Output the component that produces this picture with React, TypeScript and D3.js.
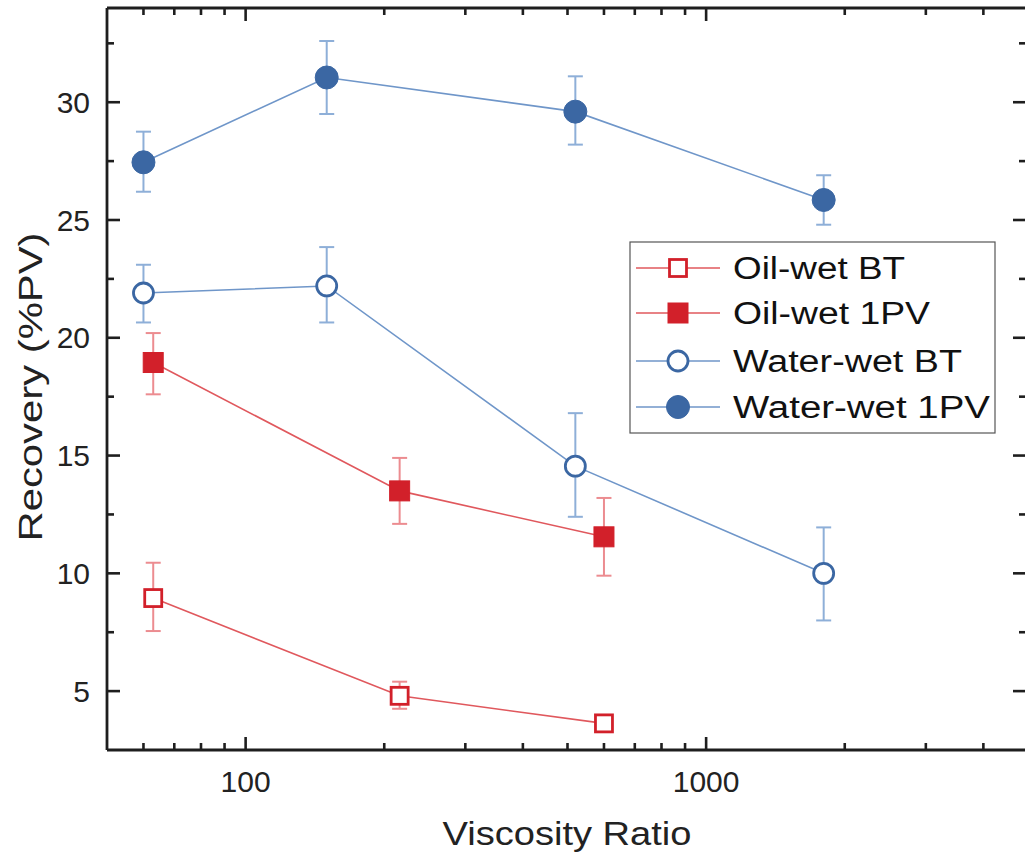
import React from "react";
import * as d3 from "d3";

// ---- data ----
const oilX = [63, 216, 600];
const waterX = [60, 150, 520, 1800];

const oilBT = [8.95, 4.8, 3.63];
const oilBTLow = [7.55, 4.25, 3.4];
const oilBTHigh = [10.45, 5.4, 3.85];

const oil1PV = [18.95, 13.5, 11.55];
const oil1PVLow = [17.6, 12.1, 9.9];
const oil1PVHigh = [20.2, 14.9, 13.2];

const waterBT = [21.9, 22.2, 14.55, 10.0];
const waterBTLow = [20.65, 20.65, 12.4, 8.0];
const waterBTHigh = [23.1, 23.85, 16.8, 11.95];

const water1PV = [27.45, 31.05, 29.6, 25.85];
const water1PVLow = [26.2, 29.5, 28.2, 24.8];
const water1PVHigh = [28.75, 32.6, 31.1, 26.9];

const xMajorTicks = [100, 1000];
const xMinorTicks = [60, 70, 80, 90, 200, 300, 400, 500, 600, 700, 800, 900, 2000, 3000, 4000];
const yMajorTicks = [5, 10, 15, 20, 25, 30];
const yMinorTicks = [7.5, 12.5, 17.5, 22.5, 27.5, 32.5];

const legendLabels = ["Oil-wet BT", "Oil-wet 1PV", "Water-wet BT", "Water-wet 1PV"];

const RED = "#d2202a";
const RED_LINE = "#e0585d";
const RED_ERR = "#ec8c90";
const BLUE = "#3b67a3";
const BLUE_LINE = "#6f96c9";
const BLUE_ERR = "#8eafd8";
const FONT = "'Liberation Sans', Arial, Helvetica, sans-serif";

type Series = {
  name: string;
  xs: number[];
  ys: number[];
  lo: number[];
  hi: number[];
  shape: "square" | "circle";
  filled: boolean;
  color: string;
  lineColor: string;
  errColor: string;
};

const series: Series[] = [
  { name: legendLabels[0], xs: oilX, ys: oilBT, lo: oilBTLow, hi: oilBTHigh, shape: "square", filled: false, color: RED, lineColor: RED_LINE, errColor: RED_ERR },
  { name: legendLabels[1], xs: oilX, ys: oil1PV, lo: oil1PVLow, hi: oil1PVHigh, shape: "square", filled: true, color: RED, lineColor: RED_LINE, errColor: RED_ERR },
  { name: legendLabels[2], xs: waterX, ys: waterBT, lo: waterBTLow, hi: waterBTHigh, shape: "circle", filled: false, color: BLUE, lineColor: BLUE_LINE, errColor: BLUE_ERR },
  { name: legendLabels[3], xs: waterX, ys: water1PV, lo: water1PVLow, hi: water1PVHigh, shape: "circle", filled: true, color: BLUE, lineColor: BLUE_LINE, errColor: BLUE_ERR },
];

const W = 1025;
const H = 856;
const left = 107;
const right = 1028;
const top = 8;
const bottom = 750;

const x = d3.scaleLog().domain([50, 5000]).range([left, right]);
const y = d3.scaleLinear().domain([2.5, 34]).range([bottom, top]);

function Marker({ s, cx, cy }: { s: Series; cx: number; cy: number }) {
  if (s.shape === "square") {
    const size = s.filled ? 20 : 17;
    return (
      <rect
        x={cx - size / 2}
        y={cy - size / 2}
        width={size}
        height={size}
        fill={s.filled ? s.color : "white"}
        stroke={s.color}
        strokeWidth={s.filled ? 1 : 2.8}
      />
    );
  }
  const r = s.filled ? 11.5 : 10;
  return (
    <circle
      cx={cx}
      cy={cy}
      r={r}
      fill={s.filled ? s.color : "white"}
      stroke={s.color}
      strokeWidth={s.filled ? 1 : 2.8}
    />
  );
}

export default function App() {
  const line = d3
    .line<[number, number]>()
    .x((d) => x(d[0]))
    .y((d) => y(d[1]));

  const axisColor = "#1e1e1e";
  const majorLen = 13;
  const minorLen = 7;

  const legendRows = [268, 313, 361, 407];
  const legendLengths = [172, 197, 229, 257];

  return (
    <svg
      width={W}
      height={H}
      style={{ position: "absolute", left: 0, top: 0, background: "white" }}
      fontFamily={FONT}
    >
      <rect x={0} y={0} width={W} height={H} fill="white" />

      {/* error bars */}
      {series.map((s, si) =>
        s.xs.map((xv, i) => {
          const cx = x(xv);
          return (
            <g key={`e${si}-${i}`} stroke={s.errColor} strokeWidth={2}>
              <line x1={cx} x2={cx} y1={y(s.lo[i])} y2={y(s.hi[i])} />
              <line x1={cx - 7.5} x2={cx + 7.5} y1={y(s.lo[i])} y2={y(s.lo[i])} />
              <line x1={cx - 7.5} x2={cx + 7.5} y1={y(s.hi[i])} y2={y(s.hi[i])} />
            </g>
          );
        })
      )}

      {/* lines */}
      {series.map((s, si) => (
        <path
          key={`l${si}`}
          d={line(s.xs.map((xv, i) => [xv, s.ys[i]] as [number, number])) || ""}
          fill="none"
          stroke={s.lineColor}
          strokeWidth={1.6}
        />
      ))}

      {/* markers */}
      {series.map((s, si) =>
        s.xs.map((xv, i) => <Marker key={`m${si}-${i}`} s={s} cx={x(xv)} cy={y(s.ys[i])} />)
      )}

      {/* axes frame */}
      <g stroke={axisColor} strokeWidth={2.8} fill="none">
        <line x1={left} x2={right} y1={bottom} y2={bottom} />
        <line x1={left} x2={right} y1={top} y2={top} />
        <line x1={left} x2={left} y1={top} y2={bottom} />
        <line x1={right} x2={right} y1={top} y2={bottom} />
      </g>

      {/* ticks */}
      <g stroke={axisColor} strokeWidth={2.6}>
        {xMajorTicks.map((t) => (
          <g key={`xM${t}`}>
            <line x1={x(t)} x2={x(t)} y1={bottom} y2={bottom - majorLen} />
            <line x1={x(t)} x2={x(t)} y1={top} y2={top + majorLen} />
          </g>
        ))}
        {xMinorTicks.map((t) => (
          <g key={`xm${t}`}>
            <line x1={x(t)} x2={x(t)} y1={bottom} y2={bottom - minorLen} />
            <line x1={x(t)} x2={x(t)} y1={top} y2={top + minorLen} />
          </g>
        ))}
        {yMajorTicks.map((t) => (
          <g key={`yM${t}`}>
            <line x1={left} x2={left + majorLen} y1={y(t)} y2={y(t)} />
            <line x1={right} x2={right - majorLen - 2} y1={y(t)} y2={y(t)} />
          </g>
        ))}
        {yMinorTicks.map((t) => (
          <g key={`ym${t}`}>
            <line x1={left} x2={left + minorLen} y1={y(t)} y2={y(t)} />
            <line x1={right} x2={right - minorLen - 2} y1={y(t)} y2={y(t)} />
          </g>
        ))}
      </g>

      {/* tick labels */}
      <g fill="#222" fontSize={30}>
        {xMajorTicks.map((t) => (
          <text key={`xl${t}`} x={x(t)} y={792} textAnchor="middle">
            {d3.format("d")(t)}
          </text>
        ))}
        {yMajorTicks.map((t) => (
          <text key={`yl${t}`} x={90} y={y(t) + 10.5} textAnchor="end">
            {t}
          </text>
        ))}
      </g>

      {/* axis titles */}
      <text
        x={567}
        y={845}
        textAnchor="middle"
        fontSize={34}
        fill="#222"
        textLength={249}
        lengthAdjust="spacingAndGlyphs"
      >
        Viscosity Ratio
      </text>
      <text
        transform={`translate(42,387) rotate(-90)`}
        textAnchor="middle"
        fontSize={34}
        fill="#222"
        textLength={309}
        lengthAdjust="spacingAndGlyphs"
      >
        Recovery (%PV)
      </text>

      {/* legend */}
      <rect x={630} y={242} width={365} height={191} fill="white" stroke="#555" strokeWidth={1.2} />
      {series.map((s, i) => (
        <g key={`lg${i}`}>
          <line x1={636} x2={720} y1={legendRows[i]} y2={legendRows[i]} stroke={s.lineColor} strokeWidth={1.6} />
          <Marker s={s} cx={678} cy={legendRows[i]} />
          <text
            x={733}
            y={legendRows[i] + 11}
            fontSize={31}
            fill="#111"
            textLength={legendLengths[i]}
            lengthAdjust="spacingAndGlyphs"
          >
            {s.name}
          </text>
        </g>
      ))}
    </svg>
  );
}
